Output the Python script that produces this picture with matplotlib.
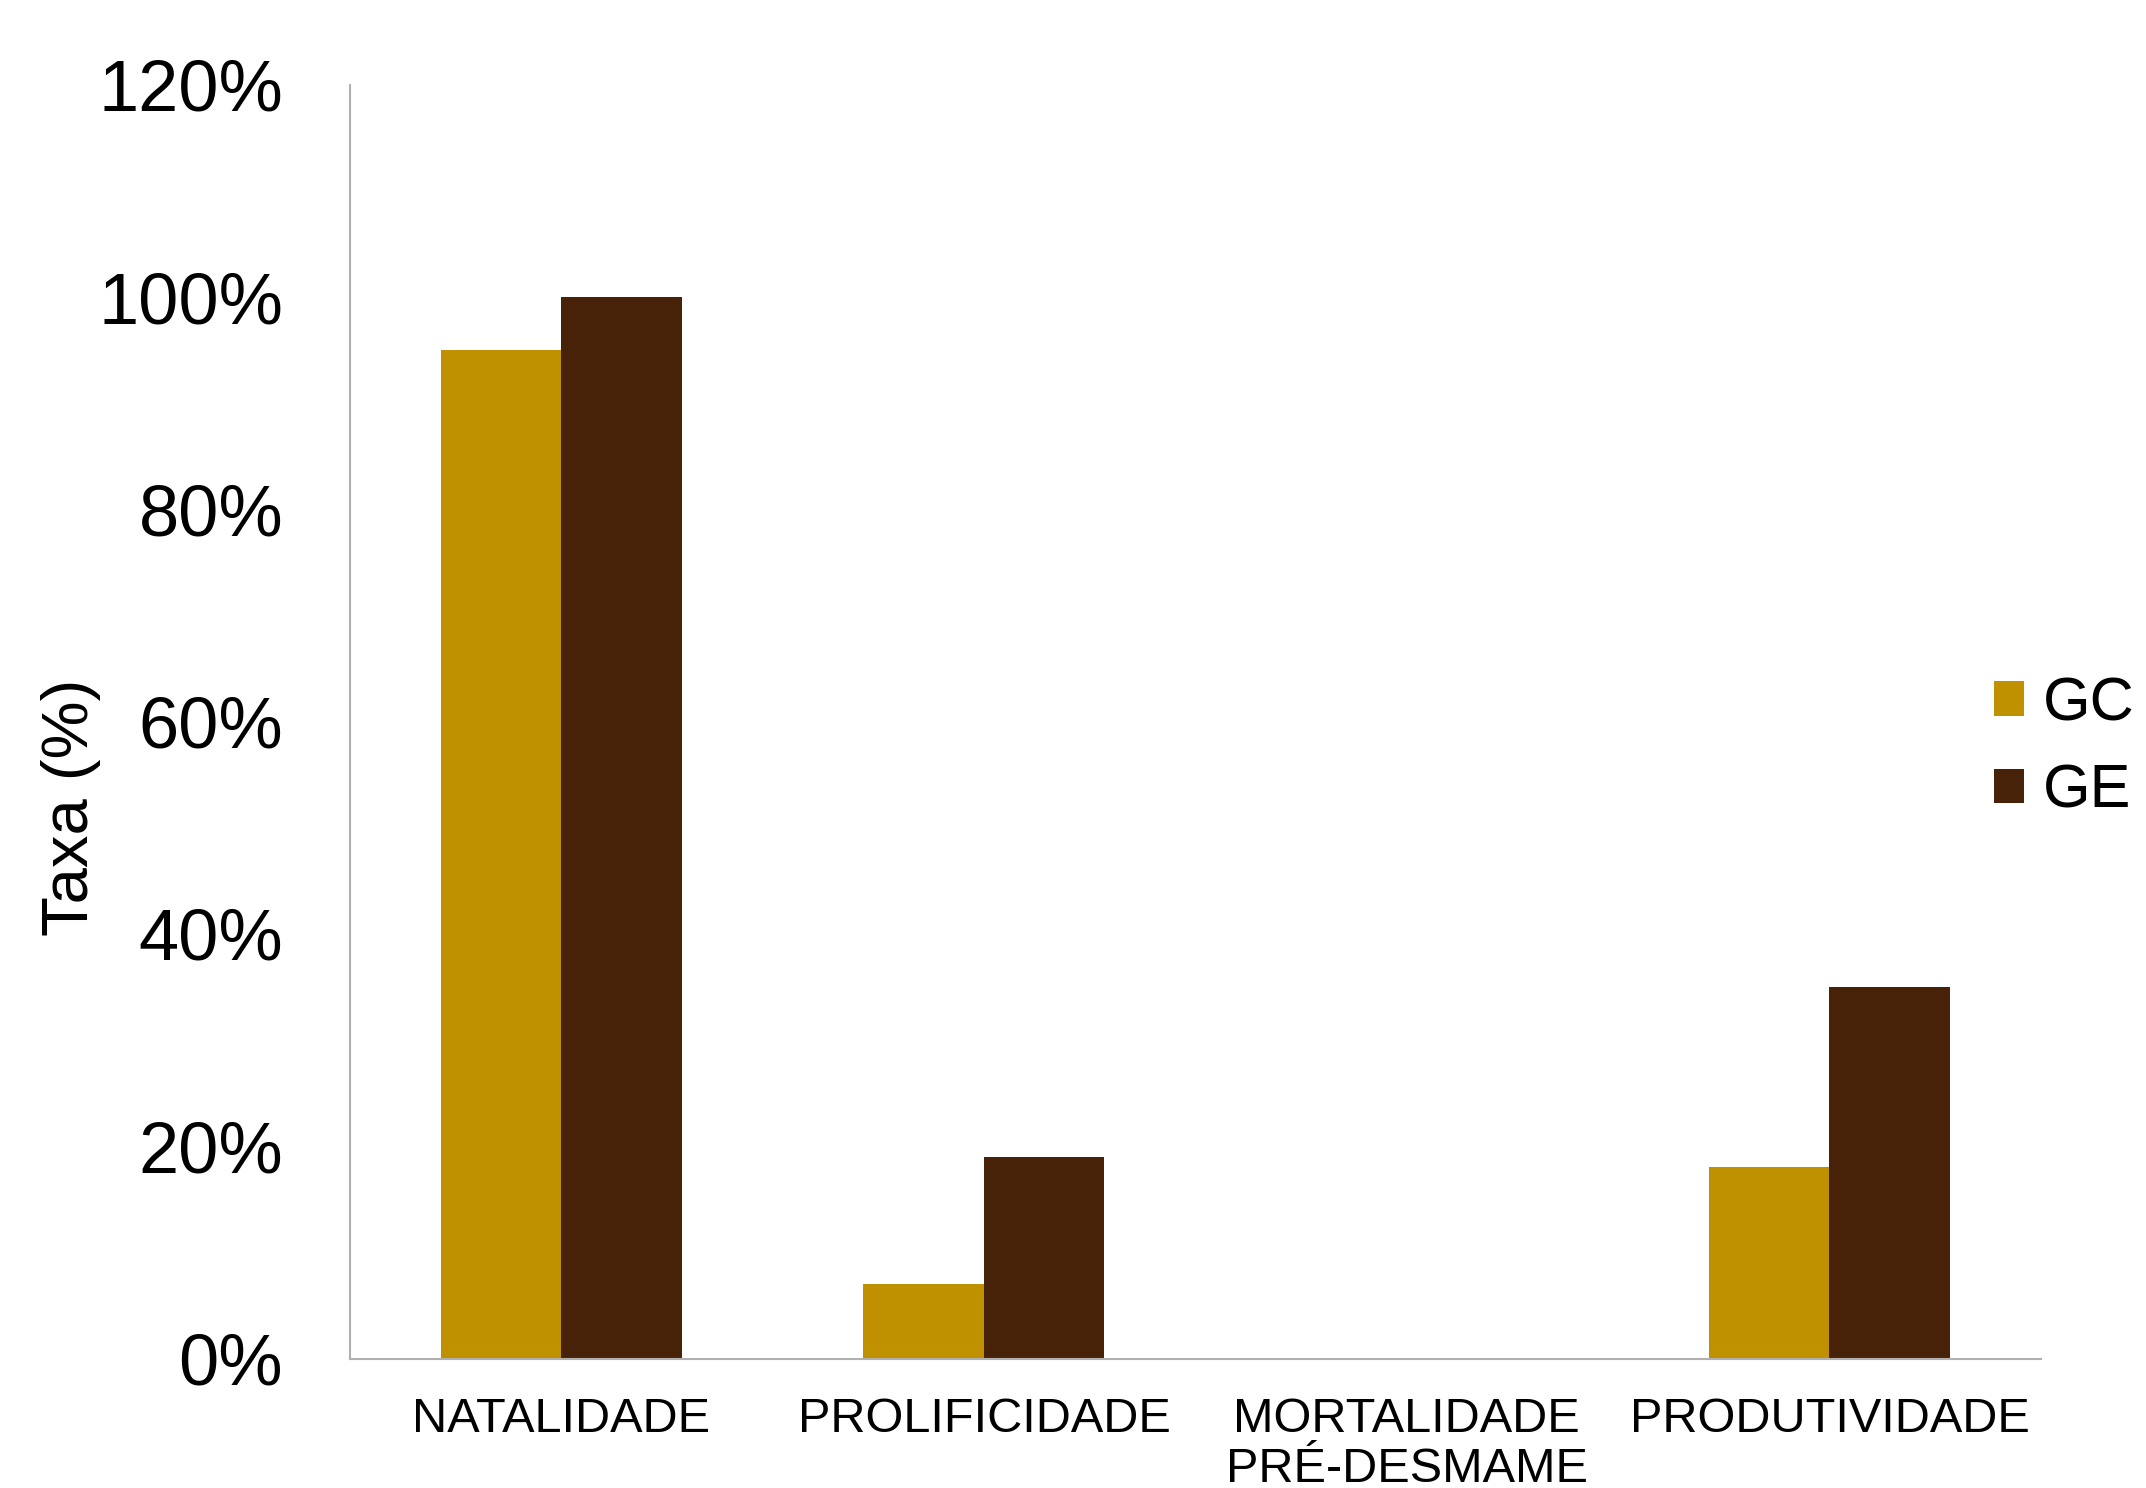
import matplotlib
matplotlib.use('Agg')
import matplotlib.pyplot as plt
import numpy as np
from matplotlib.ticker import PercentFormatter

plt.rcParams['font.family'] = ['Liberation Sans', 'DejaVu Sans']

# Data
categories = ['NATALIDADE', 'PROLIFICIDADE', 'MORTALIDADE\nPRÉ-DESMAME', 'PRODUTIVIDADE']
gc_values = [95, 7, 0, 18]
ge_values = [100, 19, 0, 35]
series_names = ['GC', 'GE']
colors = ['#BF9000', '#472209']

fig = plt.figure(figsize=(21.46, 14.88), dpi=100)
ax = fig.add_axes([0.163, 0.087, 0.788, 0.856])

x = np.arange(len(categories))
w = 0.285
ax.bar(x - w / 2, gc_values, w, color=colors[0], label=series_names[0])
ax.bar(x + w / 2, ge_values, w, color=colors[1], label=series_names[1])

ax.set_xlim(-0.5, len(categories) - 0.5)
ax.set_ylim(0, 120)
ax.set_yticks(np.arange(0, 121, 20))
ax.yaxis.set_major_formatter(PercentFormatter(decimals=0))
ax.set_xticks(x)
ax.set_xticklabels(categories, fontsize=35, linespacing=1.12, va='top')
ax.tick_params(axis='y', labelsize=52, length=0, pad=48)
ax.tick_params(axis='x', length=0, pad=28)

for s in ['top', 'right']:
    ax.spines[s].set_visible(False)
for s in ['left', 'bottom']:
    ax.spines[s].set_color('#b0b0b0')
    ax.spines[s].set_linewidth(1.5)

ax.set_ylabel('Taxa (%)', fontsize=47)
ax.yaxis.set_label_coords(-0.147, 0.433)

fig.legend(loc='center left', bbox_to_anchor=(0.929, 0.497), frameon=False,
           fontsize=44, handlelength=0.5, handleheight=0.5, handletextpad=0.3,
           labelspacing=0.5, borderaxespad=0, borderpad=0)

fig.savefig('out.png', dpi=100, facecolor='white')
